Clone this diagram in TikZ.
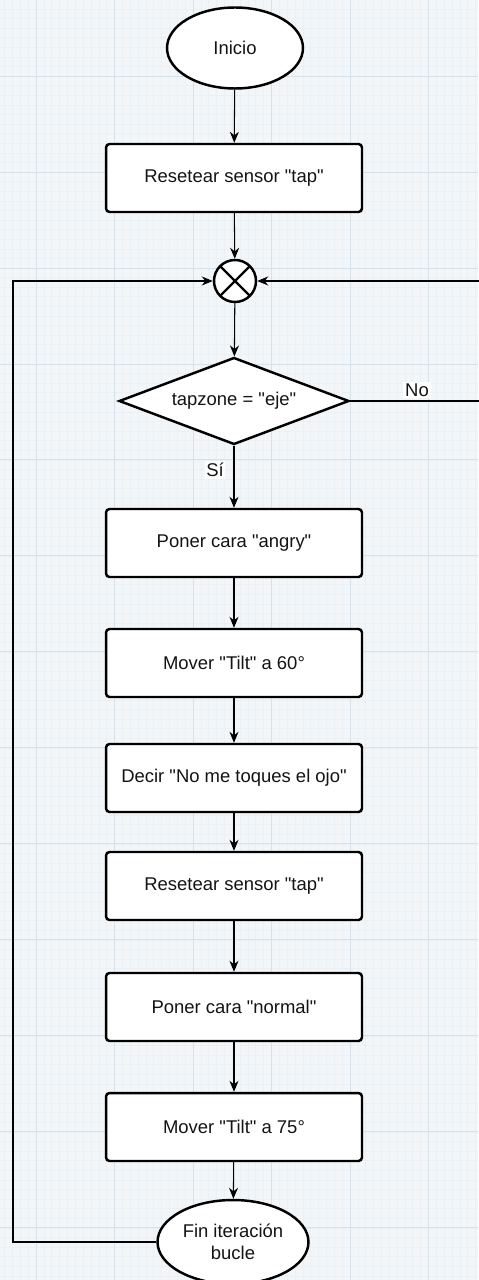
\documentclass[tikz,border=0pt]{standalone}
\usepackage{fontspec}
\setmainfont{Liberation Sans}[Ligatures=TeXOff]
\usetikzlibrary{shapes.geometric,arrows.meta}
\definecolor{paperbg}{RGB}{243,246,248}
\definecolor{gridminor}{RGB}{235,240,244}
\definecolor{gridmajor}{RGB}{214,225,233}
\definecolor{inktext}{RGB}{20,20,20}
\begin{document}
\begin{tikzpicture}[x=0.02cm,y=-0.02cm,
    font=\fontsize{10.5}{12.5}\selectfont,
    box/.style={rectangle, rounded corners=2pt, draw, line width=1.4pt, fill=white,
        text=inktext, minimum width=5.12cm, minimum height=1.36cm},
    term/.style={ellipse, draw, line width=1.4pt, fill=white, text=inktext,
        inner sep=0pt, align=center},
    decision/.style={diamond, draw, line width=1.4pt, fill=white, text=inktext,
        inner sep=0pt, aspect=2.64, minimum width=4.6cm, minimum height=1.74cm},
    sumnode/.style={circle, draw, line width=1.4pt, fill=white, minimum size=0.84cm,
        path picture={\draw[line width=1.4pt]
            (path picture bounding box.south west) -- (path picture bounding box.north east)
            (path picture bounding box.north west) -- (path picture bounding box.south east);}},
    flow/.style={-{Stealth[length=2.2mm,width=1.8mm]}, line width=0.6pt},
    lbl/.style={fill=white, text=inktext, inner sep=1pt}]
    % Background
    \useasboundingbox (0,0) rectangle (478,1280);
    \fill[paperbg] (0,0) rectangle (478,1280);
    \begin{scope}[shift={(36,76)}]
        \draw[gridminor, line width=0.3pt, xstep=0.157cm, ystep=0.192cm] (-36,1204) grid (442,-76);
        \draw[gridmajor, line width=0.5pt, xstep=1.57cm, ystep=1.92cm] (-36,1204) grid (442,-76);
    \end{scope}
    % Nodes
    \node[term, minimum width=2.72cm, minimum height=1.62cm] (inicio) at (235,48) {Inicio};
    \node[box] (reset1) at (234,178) {Resetear sensor "tap"};
    \node[sumnode] (sum) at (235,281) {};
    \node[decision] (cond) at (234,401) {tapzone = "eje"};
    \node[box] (angry) at (234,543) {Poner cara "angry"};
    \node[box] (tilt60) at (234,663) {Mover "Tilt" a 60°};
    \node[box] (decir) at (234,778) {Decir "No me toques el ojo"};
    \node[box] (reset2) at (234,886) {Resetear sensor "tap"};
    \node[box] (normal) at (234,1007) {Poner cara "normal"};
    \node[box] (tilt75) at (234,1127) {Mover "Tilt" a 75°};
    \node[term, minimum width=3.02cm, minimum height=1.68cm] (fin) at (233,1242) {Fin iteración\\bucle};
    \coordinate (loopL) at (13,1242);
    \coordinate (loopR) at (481,401);
    % Edges
    \draw[flow] (inicio) -- (reset1);
    \draw[flow] (reset1) -- (sum);
    \draw[flow] (sum) -- (cond);
    \draw[flow] (cond) -- (angry);
    \draw[flow] (angry) -- (tilt60);
    \draw[flow] (tilt60) -- (decir);
    \draw[flow] (decir) -- (reset2);
    \draw[flow] (reset2) -- (normal);
    \draw[flow] (normal) -- (tilt75);
    \draw[flow] (tilt75) -- (fin);
    \draw[flow] (fin.west) -- (loopL) |- (sum.west);
    \draw[flow] (cond.east) -- (loopR) |- (sum.east);
    % Labels
    \node[lbl] (no) at (417,390) {No};
    \node[lbl] (si) at (215,470) {Sí};
\end{tikzpicture}
\end{document}
